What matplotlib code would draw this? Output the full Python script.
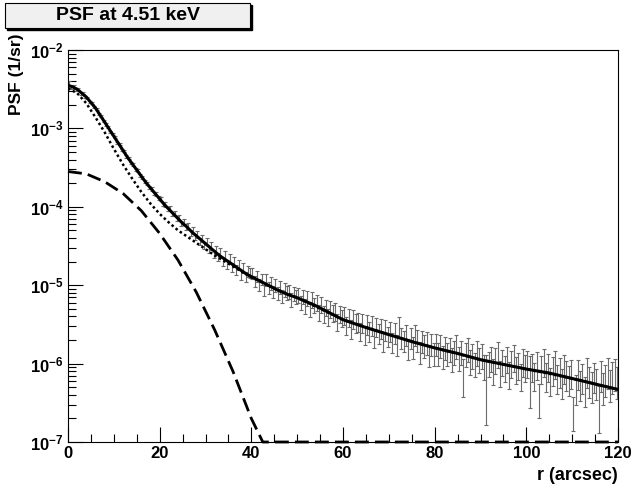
import numpy as np
import matplotlib
matplotlib.use('Agg')
import matplotlib.pyplot as plt
from matplotlib.patches import Rectangle
from matplotlib.ticker import LogLocator, NullFormatter, MultipleLocator

plt.rcParams['font.family'] = ['Liberation Sans', 'DejaVu Sans']
plt.rcParams['font.weight'] = 'bold'
plt.rcParams['mathtext.fontset'] = 'custom'
plt.rcParams['mathtext.rm'] = 'Liberation Sans:bold'
plt.rcParams['mathtext.it'] = 'Liberation Sans:bold'
plt.rcParams['mathtext.bf'] = 'Liberation Sans:bold'

# histogram of measured PSF, 0.5 arcsec bins, log10 of the bin content
bin_width = 0.5
r_bins = np.arange(0.25, 120, bin_width)
log_psf = [
    -2.44, -2.47, -2.47, -2.50, -2.50, -2.55, -2.55, -2.60, -2.61, -2.66, -2.68, -2.73, -2.75, -2.82, -2.84, -2.90, -2.95, -2.98, -3.04, -3.07,
    -3.11, -3.18, -3.20, -3.27, -3.29, -3.36, -3.38, -3.44, -3.46, -3.52, -3.54, -3.60, -3.62, -3.68, -3.70, -3.75, -3.77, -3.83, -3.84, -3.89,
    -3.90, -3.96, -3.97, -4.03, -4.02, -4.09, -4.08, -4.15, -4.14, -4.21, -4.19, -4.26, -4.24, -4.33, -4.30, -4.38, -4.35, -4.44, -4.40, -4.49,
    -4.44, -4.54, -4.50, -4.60, -4.55, -4.64, -4.58, -4.70, -4.62, -4.73, -4.66, -4.77, -4.70, -4.80, -4.74, -4.86, -4.78, -4.89, -4.82, -4.84,
    -4.85, -4.95, -4.88, -4.99, -4.92, -5.06, -4.93, -5.03, -4.97, -5.08, -5.00, -5.10, -5.02, -5.14, -5.05, -5.09, -5.08, -5.18, -5.10, -5.14,
    -5.12, -5.22, -5.14, -5.26, -5.16, -5.30, -5.18, -5.25, -5.22, -5.34, -5.24, -5.36, -5.28, -5.40, -5.30, -5.35, -5.33, -5.46, -5.36, -5.41,
    -5.38, -5.50, -5.40, -5.55, -5.42, -5.47, -5.46, -5.58, -5.47, -5.62, -5.49, -5.58, -5.50, -5.66, -5.52, -5.60, -5.54, -5.70, -5.56, -5.64,
    -5.58, -5.72, -5.60, -5.75, -5.52, -5.66, -5.70, -5.62, -5.80, -5.66, -5.78, -5.62, -5.69, -5.84, -5.70, -5.76, -5.72, -5.88, -5.74, -5.86,
    -5.74, -5.86, -5.76, -5.90, -5.78, -5.86, -5.80, -5.93, -5.84, -5.76, -5.92, -5.84, -6.12, -5.86, -5.80, -5.96, -5.88, -5.99, -5.84, -5.93,
    -5.88, -6.02, -6.14, -5.98, -5.92, -6.08, -5.94, -5.86, -6.10, -5.96, -6.04, -5.92, -6.12, -5.98, -5.90, -6.06, -6.00, -6.14, -5.96, -6.03,
    -5.98, -6.12, -6.02, -6.14, -6.00, -6.43, -6.04, -5.96, -6.14, -6.02, -6.20, -6.06, -5.98, -6.16, -6.08, -6.22, -6.04, -6.12, -6.18, -6.10,
    -6.59, -6.30, -6.10, -6.24, -6.16, -6.32, -6.08, -6.20, -6.26, -6.14, -6.22, -6.49, -6.12, -6.28, -6.18, -6.08, -6.24, -6.14, -6.10, -6.20,
]
# relative error of each bin
rel_err = [
    0.10, 0.06, 0.05, 0.045, 0.04, 0.04, 0.035, 0.035, 0.035, 0.03, 0.03, 0.03, 0.03, 0.03, 0.03, 0.03, 0.03, 0.03, 0.03, 0.03,
    0.03, 0.03, 0.03, 0.03, 0.035, 0.035, 0.035, 0.035, 0.04, 0.04, 0.04, 0.04, 0.045, 0.045, 0.045, 0.05, 0.05, 0.05, 0.055, 0.055,
    0.06, 0.06, 0.065, 0.065, 0.07, 0.07, 0.075, 0.075, 0.08, 0.08, 0.085, 0.085, 0.09, 0.09, 0.095, 0.095, 0.10, 0.10, 0.105, 0.105,
    0.11, 0.11, 0.115, 0.115, 0.12, 0.12, 0.125, 0.125, 0.13, 0.13, 0.135, 0.135, 0.14, 0.14, 0.145, 0.145, 0.15, 0.15, 0.155, 0.155,
    0.16, 0.16, 0.165, 0.165, 0.17, 0.17, 0.175, 0.175, 0.18, 0.18, 0.185, 0.185, 0.19, 0.19, 0.195, 0.195, 0.20, 0.20, 0.205, 0.205,
    0.21, 0.21, 0.215, 0.215, 0.22, 0.22, 0.225, 0.225, 0.23, 0.23, 0.235, 0.235, 0.24, 0.24, 0.245, 0.245, 0.25, 0.25, 0.255, 0.255,
    0.26, 0.26, 0.26, 0.265, 0.265, 0.265, 0.27, 0.27, 0.27, 0.275, 0.275, 0.275, 0.28, 0.28, 0.28, 0.285, 0.285, 0.285, 0.29, 0.29,
    0.29, 0.29, 0.295, 0.295, 0.295, 0.30, 0.30, 0.30, 0.305, 0.305, 0.305, 0.31, 0.31, 0.31, 0.315, 0.315, 0.315, 0.32, 0.32, 0.32,
    0.32, 0.325, 0.325, 0.325, 0.33, 0.33, 0.33, 0.335, 0.335, 0.335, 0.34, 0.34, 0.50, 0.34, 0.345, 0.345, 0.345, 0.35, 0.35, 0.35,
    0.35, 0.355, 0.77, 0.355, 0.355, 0.36, 0.36, 0.36, 0.365, 0.365, 0.365, 0.37, 0.37, 0.37, 0.375, 0.375, 0.375, 0.38, 0.38, 0.38,
    0.38, 0.64, 0.385, 0.385, 0.39, 0.46, 0.39, 0.39, 0.395, 0.395, 0.395, 0.40, 0.40, 0.40, 0.405, 0.405, 0.405, 0.41, 0.41, 0.41,
    0.47, 0.41, 0.415, 0.415, 0.415, 0.42, 0.42, 0.42, 0.425, 0.425, 0.425, 0.60, 0.43, 0.43, 0.435, 0.435, 0.435, 0.44, 0.44, 0.44,
]

# total fit (solid)
r_fit = [0, 1, 2, 3, 4, 5, 6, 7, 8, 9, 10, 11, 12, 13, 14, 15, 16, 17, 18, 19, 20,
         21, 22, 23, 24, 25, 26, 27, 28, 29, 30, 31, 32, 33, 34, 35, 36, 37, 38, 39, 40,
         42, 44, 46, 48, 50, 52, 54, 56, 58, 60, 65, 70, 75, 80, 85, 90, 95, 100, 105, 110, 115, 120]
log_fit = [-2.45, -2.47, -2.50, -2.55, -2.60, -2.67, -2.74, -2.83, -2.92, -3.01, -3.10,
           -3.19, -3.28, -3.37, -3.45, -3.53, -3.61, -3.69, -3.76, -3.83, -3.90,
           -3.97, -4.03, -4.09, -4.15, -4.21, -4.26, -4.32, -4.37, -4.42, -4.47,
           -4.52, -4.57, -4.62, -4.66, -4.70, -4.74, -4.78, -4.82, -4.86, -4.89,
           -4.95, -5.01, -5.07, -5.12, -5.16, -5.21, -5.26, -5.32, -5.38, -5.44,
           -5.54, -5.63, -5.72, -5.80, -5.87, -5.95, -6.01, -6.07, -6.12, -6.19, -6.26, -6.33]

# core component (dotted)
r_core = [0, 2, 4, 6, 8, 10, 12, 14, 16, 18, 20, 22, 24, 26, 28, 30, 32, 34, 36, 38, 40,
          45, 50, 60, 70, 80, 90, 100, 110, 120]
log_core = [-2.49, -2.55, -2.68, -2.86, -3.05, -3.26, -3.46, -3.64, -3.81, -3.96, -4.09,
            -4.20, -4.30, -4.38, -4.46, -4.54, -4.62, -4.69, -4.76, -4.83, -4.90,
            -5.04, -5.16, -5.44, -5.63, -5.80, -5.95, -6.07, -6.19, -6.33]

# gaussian component (dashed), drawn on the frame once below 1e-7
r_gaus = [0, 4, 8, 12, 16, 20, 24, 28, 32, 36, 40, 42.5, 60, 80, 100, 120]
log_gaus = [-3.55, -3.58, -3.68, -3.83, -4.05, -4.34, -4.68, -5.09, -5.57, -6.10, -6.70,
            -7.0, -7.0, -7.0, -7.0, -7.0]

psf = 10 ** np.array(log_psf)
err = psf * np.array(rel_err)

fig = plt.figure(figsize=(6.33, 4.87), dpi=100)
ax = fig.add_axes([68 / 633, 45 / 487, 550 / 633, 392 / 487])

ax.errorbar(r_bins, psf, yerr=err, fmt='none', ecolor='0.42', elinewidth=0.8,
            capsize=1.3, capthick=0.8, zorder=2)
ax.plot(r_fit, 10 ** np.array(log_fit), color='black', lw=2.2, zorder=4)
ax.plot(r_core, 10 ** np.array(log_core), color='black', lw=1.8,
        ls=(0, (1, 1.1)), zorder=3)
ax.plot(r_gaus, 10 ** np.array(log_gaus), color='black', lw=2.0,
        ls=(0, (5, 2.2)), zorder=5, clip_on=False)

ax.set_yscale('log')
ax.set_xlim(0, 120)
ax.set_ylim(1e-7, 1e-2)
ax.xaxis.set_major_locator(MultipleLocator(20))
ax.xaxis.set_minor_locator(MultipleLocator(5))
ax.yaxis.set_major_locator(LogLocator(base=10, numticks=10))
ax.yaxis.set_minor_locator(LogLocator(base=10, subs=np.arange(2, 10), numticks=20))
ax.yaxis.set_minor_formatter(NullFormatter())
ax.tick_params(which='both', direction='in', top=False, right=False, labelsize=12, pad=3)
ax.tick_params(which='major', length=11, width=0.8)
ax.tick_params(which='minor', length=5.5, width=0.8)
for s in ax.spines.values():
    s.set_linewidth(0.8)

fig.text(17 / 633, 1 - 33 / 487, 'PSF (1/sr)', rotation=90, ha='center', va='top',
         fontsize=12.5, fontweight='bold')
fig.text(618 / 633, 1 - 475 / 487, 'r (arcsec)', ha='right', va='center',
         fontsize=13, fontweight='bold')

# title pave with shadow
fig.patches.append(Rectangle((7 / 633, 1 - 30 / 487), 245 / 633, 25 / 487,
                             transform=fig.transFigure, facecolor='black', edgecolor='black'))
fig.patches.append(Rectangle((5 / 633, 1 - 28 / 487), 245 / 633, 25 / 487,
                             transform=fig.transFigure, facecolor='#f0f0f0', edgecolor='black', lw=0.8))
fig.text(127.5 / 633, 1 - 15.5 / 487, 'PSF at 4.51 keV', ha='center', va='center',
         fontsize=14, fontweight='bold')

fig.savefig('out.png', dpi=100, facecolor='white')
